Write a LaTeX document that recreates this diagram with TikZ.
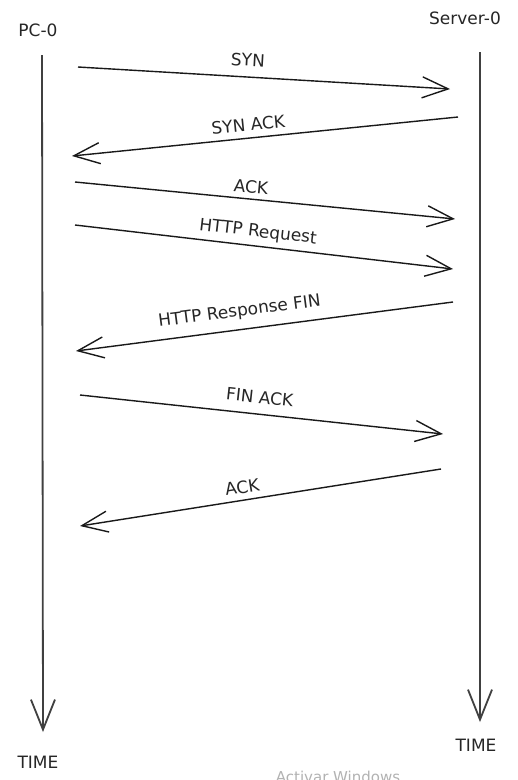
\documentclass[tikz,border=0pt]{standalone}
\usepackage{fontspec}
\setmainfont{DejaVu Sans}
\usetikzlibrary{arrows.meta}
\begin{document}
\begin{tikzpicture}[x=1pt,y=-1pt,
  lbl/.style={font=\fontsize{17}{20}\selectfont, text=black!85, inner sep=0pt},
  life/.style={draw=black!75, line width=1.8pt, -{Straight Barb[length=30pt,width=24pt]}},
  msg/.style={draw=black!90, line width=1.4pt, -{Straight Barb[length=26pt,width=21pt]}},
  mlab/.style={lbl, sloped}]
\useasboundingbox[fill=white] (0,0) rectangle (518,780);
% participants
\node[lbl] (pc) at (38,30) {PC-0};
\node[lbl] (srv) at (465,18) {Server-0};
\node[lbl] (tl) at (38,762) {TIME};
\node[lbl] (tr) at (476,745) {TIME};
% lifelines
\coordinate (pcTop) at (42,55);
\coordinate (pcBot) at (43,732);
\coordinate (svTop) at (480,52);
\coordinate (svBot) at (480,722);
\draw[life] (pcTop) -- (pcBot);
\draw[life] (svTop) -- (svBot);
% message end points
\coordinate (m1a) at (78,67);   \coordinate (m1b) at (450,89);
\coordinate (m2a) at (458,117); \coordinate (m2b) at (72,156);
\coordinate (m3a) at (75,182);  \coordinate (m3b) at (455,219);
\coordinate (m4a) at (75,225);  \coordinate (m4b) at (453,269);
\coordinate (m5a) at (453,302); \coordinate (m5b) at (76,351);
\coordinate (m6a) at (80,395);  \coordinate (m6b) at (443,434);
\coordinate (m7a) at (441,469); \coordinate (m7b) at (80,526);
% messages
\draw[msg] (m1a) -- node[mlab, pos=0.454, above=10pt] (l1) {SYN} (m1b);
\draw[msg] (m2a) -- node[mlab, pos=0.54, above=6pt] (l2) {SYN ACK} (m2b);
\draw[msg] (m3a) -- node[mlab, pos=0.46, above=5pt] (l3) {ACK} (m3b);
\draw[msg] (m4a) -- node[mlab, pos=0.48, above=5pt] (l4) {HTTP Request} (m4b);
\draw[msg] (m5a) -- node[mlab, pos=0.56, above=9pt] (l5) {HTTP Response FIN} (m5b);
\draw[msg] (m6a) -- node[mlab, pos=0.49, above=10pt] (l6) {FIN ACK} (m6b);
\draw[msg] (m7a) -- node[mlab, pos=0.545, above=6pt] (l7) {ACK} (m7b);
% watermark
\node[font=\fontsize{15}{18}\selectfont, text=black!30, anchor=north, inner sep=0pt] (wm) at (338,771) {Activar Windows};
\end{tikzpicture}
\end{document}
